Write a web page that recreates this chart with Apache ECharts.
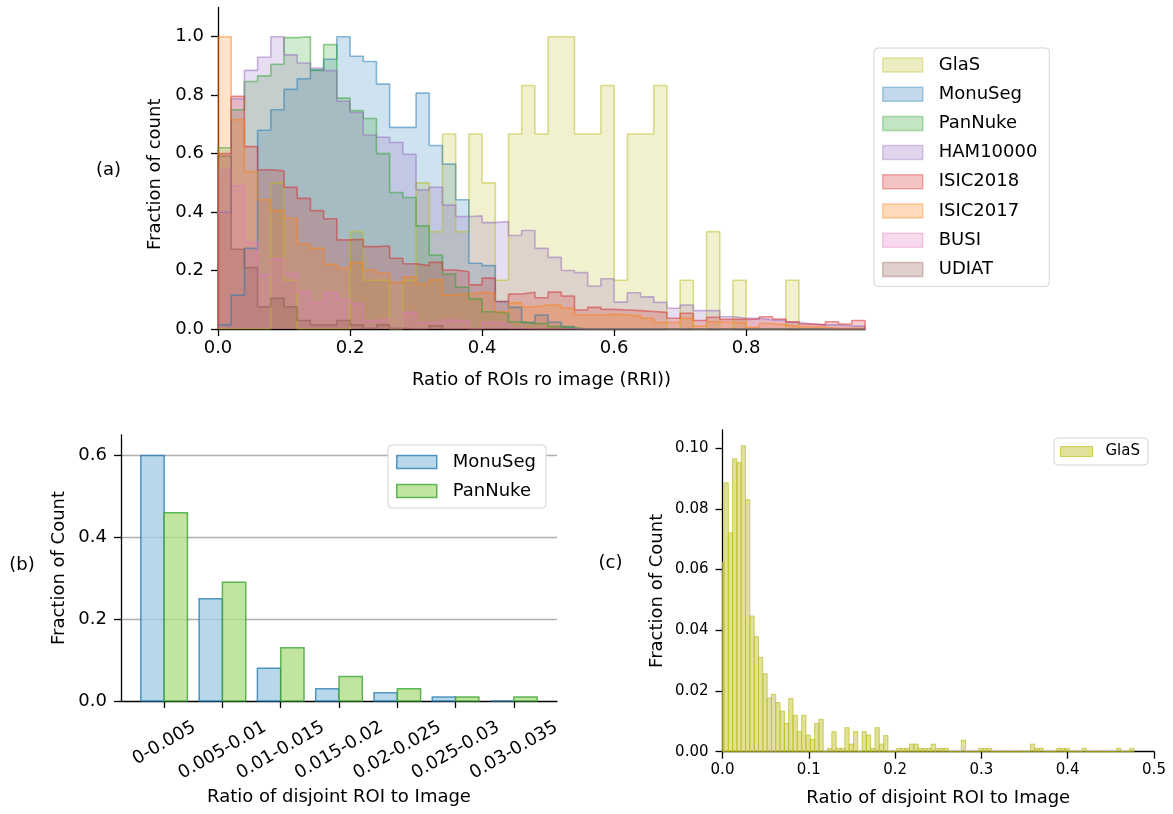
<!DOCTYPE html>
<html>
<head>
<meta charset="utf-8">
<title>ROI ratio histograms</title>
<script src="https://cdn.jsdelivr.net/npm/echarts@6.0.0/dist/echarts.min.js"></script>
<style>
  html, body { margin: 0; padding: 0; background: #fff; }
  #main { width: 1173px; height: 814px; }
</style>
</head>
<body>
<div id="main"></div>
<script>
// (a) fraction of count per RRI bin, bins 0.02 wide starting at 0
const rriBinWidth = 0.02;
const rriNames = ['GlaS', 'MonuSeg', 'PanNuke', 'HAM10000', 'ISIC2018', 'ISIC2017', 'BUSI', 'UDIAT'];
const glasRRI = [
  0, 0, 0, 0, 0.5, 0.167, 0, 0, 0, 0,
  0.333, 0.167, 0.167, 0, 0.167, 0.5, 0.333, 0.667, 0.333, 0.667,
  0.5, 0.167, 0.667, 0.833, 0.667, 1.0, 1.0, 0.667, 0.667, 0.833,
  0.167, 0.667, 0.667, 0.833, 0, 0.167, 0, 0.333, 0, 0.167,
  0, 0, 0, 0.167, 0, 0, 0, 0, 0
];
const monuSegRRI = [
  0.014, 0.116, 0.276, 0.68, 0.75, 0.82, 0.856, 0.887, 0.923, 1.0,
  0.933, 0.915, 0.838, 0.69, 0.69, 0.807, 0.628, 0.564, 0.442, 0.225,
  0.217, 0.094, 0.074, 0.022, 0.048, 0.023, 0.008, 0, 0, 0,
  0, 0, 0, 0, 0, 0, 0, 0, 0, 0,
  0, 0, 0, 0, 0, 0, 0, 0, 0
];
const panNukeRRI = [
  0.62, 0.75, 0.847, 0.866, 0.906, 0.997, 1.0, 0.885, 0.973, 0.79,
  0.747, 0.72, 0.6, 0.467, 0.45, 0.353, 0.253, 0.188, 0.143, 0.103,
  0.059, 0.054, 0.025, 0.019, 0.019, 0.008, 0.005, 0, 0, 0,
  0, 0, 0, 0, 0, 0, 0, 0, 0, 0,
  0, 0, 0, 0, 0, 0, 0, 0, 0
];
const hamRRI = [
  0.4, 0.788, 0.885, 0.93, 1.0, 0.938, 0.91, 0.893, 0.884, 0.779,
  0.741, 0.664, 0.656, 0.638, 0.598, 0.476, 0.485, 0.424, 0.385, 0.387,
  0.364, 0.368, 0.32, 0.337, 0.276, 0.245, 0.2, 0.193, 0.147, 0.172,
  0.092, 0.124, 0.11, 0.091, 0.071, 0.082, 0.063, 0.063, 0.042, 0.037,
  0.037, 0.031, 0.031, 0.023, 0.017, 0.014, 0.014, 0.01, 0.01
];
const isic2018RRI = [
  0.6, 0.796, 0.624, 0.545, 0.541, 0.485, 0.447, 0.405, 0.377, 0.305,
  0.307, 0.282, 0.284, 0.242, 0.223, 0.217, 0.228, 0.202, 0.196, 0.151,
  0.174, 0.094, 0.12, 0.126, 0.107, 0.126, 0.113, 0.065, 0.074, 0.067,
  0.065, 0.063, 0.06, 0.057, 0.037, 0.054, 0.029, 0.04, 0.033, 0.033,
  0.034, 0.042, 0.034, 0.025, 0.017, 0.014, 0.025, 0.017, 0.029
];
const isic2017RRI = [
  1.0, 0.716, 0.539, 0.442, 0.405, 0.379, 0.291, 0.276, 0.221, 0.208,
  0.228, 0.202, 0.191, 0.159, 0.179, 0.154, 0.168, 0.116, 0.12, 0.126,
  0.122, 0.059, 0.09, 0.076, 0.082, 0.082, 0.071, 0.048, 0.048, 0.051,
  0.048, 0.045, 0.037, 0.022, 0.022, 0.037, 0.01, 0.025, 0.022, 0.022,
  0.006, 0.019, 0.014, 0.008, 0.008, 0.006, 0.002, 0.002, 0.002
];
const busiRRI = [
  0.545, 0.49, 0.296, 0.185, 0.239, 0.19, 0.128, 0.09, 0.124, 0.102,
  0.086, 0.029, 0.033, 0.002, 0.057, 0.022, 0.022, 0.031, 0.027, 0,
  0.022, 0.017, 0.002, 0, 0, 0, 0, 0, 0, 0,
  0, 0, 0, 0, 0, 0, 0, 0, 0, 0,
  0, 0, 0, 0, 0, 0, 0, 0, 0
];
const udiatRRI = [
  0.592, 0.273, 0.21, 0.076, 0.105, 0.076, 0.029, 0.014, 0.014, 0.029,
  0.014, 0.002, 0.014, 0.002, 0, 0, 0.011, 0, 0, 0,
  0, 0, 0, 0, 0, 0, 0, 0, 0, 0,
  0, 0, 0, 0, 0, 0, 0, 0, 0, 0,
  0, 0, 0, 0, 0, 0, 0, 0, 0
];
const rriValues = [glasRRI, monuSegRRI, panNukeRRI, hamRRI, isic2018RRI, isic2017RRI, busiRRI, udiatRRI];
const rriTicksX = [0, 0.2, 0.4, 0.6, 0.8];
const rriTicksY = [0, 0.2, 0.4, 0.6, 0.8, 1.0];

// (b) disjoint ROI ratio, grouped bars
const disjointBins = ['0-0.005', '0.005-0.01', '0.01-0.015', '0.015-0.02', '0.02-0.025', '0.025-0.03', '0.03-0.035'];
const monuSegDisjoint = [0.6, 0.25, 0.08, 0.03, 0.02, 0.01, 0];
const panNukeDisjoint = [0.46, 0.29, 0.13, 0.06, 0.03, 0.01, 0.01];
const disjointTicksY = [0, 0.2, 0.4, 0.6];

// (c) GlaS disjoint ROI ratio, bins 0.005 wide (first one cut by the axis)
const glasBinStart = -0.0033;
const glasBinWidth = 0.005;
const glasDisjoint = [
  0.0625,
  0.0886, 0.0721, 0.0965, 0.0952, 0.1008, 0.083, 0.0447, 0.0379, 0.0311, 0.0257,
  0.0177, 0.0189, 0.0162, 0.0134, 0.0093, 0.0175, 0.012, 0.0066, 0.012, 0.0055,
  0.004, 0.0093, 0.0106, 0, 0.0011, 0.0066, 0.0011, 0.0011, 0.0079, 0.0025,
  0.0066, 0, 0.0066, 0.0055, 0.0011, 0.0079, 0.0025, 0.0053, 0, 0,
  0.0011, 0.0011, 0.0011, 0.0025, 0.0025, 0.0011, 0.0011, 0.0011, 0.0025, 0.0011,
  0.0011, 0.0011, 0, 0, 0, 0.0038, 0, 0, 0, 0.0011,
  0.0011, 0.0011, 0, 0, 0, 0, 0, 0, 0, 0,
  0, 0.0025, 0.0011, 0.0011, 0, 0, 0, 0.0011, 0.0011, 0.0011,
  0, 0, 0, 0.0011, 0, 0, 0, 0, 0, 0,
  0, 0.0011, 0, 0, 0.0011
];
const glasTicksX = [0, 0.1, 0.2, 0.3, 0.4, 0.5];
const glasTicksY = [0, 0.02, 0.04, 0.06, 0.08, 0.1];

const font = 'DejaVu Sans';
const tab10 = ['188,189,34', '31,119,180', '44,160,44', '148,103,189', '214,39,40', '255,127,14', '227,119,194', '140,86,75'];
const rgba = (c, a) => 'rgba(' + c + ',' + a + ')';

// outline of a filled step histogram
function stepPoints (values) {
  const n = values.length;
  const pts = [[0, 0]];
  values.forEach((v, i) => pts.push([i * rriBinWidth, v]));
  pts.push([n * rriBinWidth, values[n - 1]]);
  pts.push([n * rriBinWidth, 0]);
  return pts;
}

function barRect (fill, stroke, lineWidth) {
  return function (params, api) {
    const top = api.coord([api.value(0), api.value(2)]);
    const bot = api.coord([api.value(1), 0]);
    const cs = params.coordSys;
    const shape = echarts.graphic.clipRectByRect(
      { x: top[0], y: top[1], width: bot[0] - top[0], height: bot[1] - top[1] },
      { x: cs.x, y: cs.y, width: cs.width, height: cs.height });
    if (!shape) return;
    return { type: 'rect', shape: shape, style: { fill: fill, stroke: stroke, lineWidth: lineWidth } };
  };
}

function valueAxis (grid, min, max, ticks, digits, size, margin, extra) {
  return Object.assign({
    type: 'value', gridIndex: grid, min: min, max: max,
    axisLine: { show: true, onZero: false, lineStyle: { color: '#000', width: 1.3 } },
    axisTick: { show: true, length: 7, customValues: ticks, lineStyle: { color: '#000', width: 1.3 } },
    axisLabel: {
      customValues: ticks, margin: margin, color: '#000', fontFamily: font, fontSize: size,
      formatter: v => v.toFixed(digits)
    },
    splitLine: { show: false },
    nameLocation: 'middle',
    nameTextStyle: { color: '#000', fontFamily: font, fontSize: 18 }
  }, extra);
}

// rotated (b) tick labels: centred under the tick, dropping lower the wider they are
const measure = document.createElement('canvas').getContext('2d');
measure.font = '18px "DejaVu Sans"';
function tiltedLabel (params, api) {
  const i = api.value(0);
  const text = disjointBins[i];
  const w = measure.measureText(text).width;
  const p = api.coord([i, 0]);
  return {
    type: 'text',
    x: p[0],
    y: p[1] + 25 + 0.25 * w,
    rotation: Math.PI / 6,
    style: { text: text, fill: '#000', fontFamily: font, fontSize: 18, align: 'center', verticalAlign: 'middle' }
  };
}

const chart = echarts.init(document.getElementById('main'));

const rriSeries = rriNames.map((name, i) => ({
  name: name,
  type: 'line',
  xAxisIndex: 0,
  yAxisIndex: 0,
  step: 'end',
  symbol: 'none',
  clip: true,
  data: stepPoints(rriValues[i]),
  lineStyle: { color: rgba(tab10[i], 0.5), width: 1.6 },
  itemStyle: { color: rgba(tab10[i], 0.31) },
  areaStyle: { color: rgba(tab10[i], 0.31) },
  emphasis: { disabled: true }
}));

const option = {
  animation: false,
  backgroundColor: '#fff',
  grid: [
    { left: 218, top: 7.5, width: 647, height: 321.5 },
    { left: 121, top: 435, width: 436, height: 266 },
    { left: 722.5, top: 430, width: 431.5, height: 321.7 }
  ],
  xAxis: [
    valueAxis(0, 0, 0.98, rriTicksX, 1, 18, 10, { name: 'Ratio of ROIs ro image (RRI))', nameGap: 42 }),
    valueAxis(1, -0.74, 6.74, disjointBins.map((c, i) => i), 0, 18, 10, {
      name: 'Ratio of disjoint ROI to Image', nameGap: 87, nameMoveOverlap: false
    }),
    valueAxis(2, 0, 0.5, glasTicksX, 1, 15, 11, { name: 'Ratio of disjoint ROI to Image', nameGap: 38 })
  ],
  yAxis: [
    valueAxis(0, 0, 1.1, rriTicksY, 1, 18, 14, {
      name: 'Fraction of count', nameGap: 53,
      nameTextStyle: { color: '#000', fontFamily: font, fontSize: 18, padding: [0, 12, 0, 0] }
    }),
    valueAxis(1, 0, 0.65, disjointTicksY, 1, 18, 14, {
      name: 'Fraction of Count', nameGap: 53, interval: 0.2,
      splitLine: { show: true, showMinLine: false, showMaxLine: true, lineStyle: { color: '#b0b0b0', width: 1.3 } }
    }),
    valueAxis(2, 0, 0.106, glasTicksY, 2, 15, 14, { name: 'Fraction of Count', nameGap: 56 })
  ],
  legend: [
    {
      data: rriNames.map((name, i) => ({
        name: name,
        itemStyle: { color: rgba(tab10[i], 0.28), borderColor: rgba(tab10[i], 0.35), borderWidth: 1.5 }
      })),
      orient: 'vertical', left: 874, top: 48, padding: [8, 12, 8, 8],
      icon: 'rect', itemWidth: 40, itemHeight: 14, itemGap: 11.2,
      selectedMode: false,
      backgroundColor: '#fff', borderColor: '#d4d4d4', borderWidth: 1, borderRadius: 4,
      textStyle: { color: '#000', fontFamily: font, fontSize: 18, padding: [0, 0, 0, 11] }
    },
    {
      data: [
        { name: 'MonuSeg', itemStyle: { color: 'rgba(166,206,227,0.8)', borderColor: 'rgba(31,120,180,0.75)', borderWidth: 1.5 } },
        { name: 'PanNuke', itemStyle: { color: 'rgba(178,223,138,0.8)', borderColor: 'rgba(51,160,44,0.75)', borderWidth: 1.5 } }
      ],
      orient: 'vertical', left: 388, top: 445, padding: [8, 10, 8, 8],
      icon: 'rect', itemWidth: 40, itemHeight: 13, itemGap: 11,
      selectedMode: false,
      backgroundColor: '#fff', borderColor: '#d4d4d4', borderWidth: 1, borderRadius: 4,
      textStyle: { color: '#000', fontFamily: font, fontSize: 18, padding: [0, 0, 0, 11] }
    },
    {
      data: [
        { name: 'GlaS', itemStyle: { color: 'rgba(188,189,34,0.45)', borderColor: 'rgba(188,189,34,0.7)', borderWidth: 1 } }
      ],
      orient: 'vertical', left: 1054, top: 438, padding: [6, 8, 6, 6],
      icon: 'rect', itemWidth: 32, itemHeight: 10,
      selectedMode: false,
      backgroundColor: '#fff', borderColor: '#d4d4d4', borderWidth: 1, borderRadius: 4,
      textStyle: { color: '#000', fontFamily: font, fontSize: 15, padding: [0, 0, 0, 8] }
    }
  ],
  graphic: [
    { type: 'text', x: 108.5, y: 170, style: { text: '(a)', fill: '#000', fontFamily: font, fontSize: 18, align: 'center', verticalAlign: 'middle' } },
    { type: 'text', x: 22, y: 565, style: { text: '(b)', fill: '#000', fontFamily: font, fontSize: 18, align: 'center', verticalAlign: 'middle' } },
    { type: 'text', x: 610.5, y: 563, style: { text: '(c)', fill: '#000', fontFamily: font, fontSize: 18, align: 'center', verticalAlign: 'middle' } }
  ],
  series: rriSeries.concat([
    {
      name: 'MonuSeg', type: 'custom', xAxisIndex: 1, yAxisIndex: 1,
      renderItem: barRect('rgba(166,206,227,0.8)', 'rgba(31,120,180,0.75)', 1.5),
      encode: { x: [0, 1], y: 2 },
      data: monuSegDisjoint.map((v, i) => [i - 0.4, i, v])
    },
    {
      name: 'PanNuke', type: 'custom', xAxisIndex: 1, yAxisIndex: 1,
      renderItem: barRect('rgba(178,223,138,0.8)', 'rgba(51,160,44,0.75)', 1.5),
      encode: { x: [0, 1], y: 2 },
      data: panNukeDisjoint.map((v, i) => [i, i + 0.4, v])
    },
    {
      name: 'binLabels', type: 'custom', xAxisIndex: 1, yAxisIndex: 1,
      renderItem: tiltedLabel,
      encode: { x: 0, y: 1 },
      silent: true,
      data: disjointBins.map((t, i) => [i, 0])
    },
    {
      name: 'GlaS', type: 'custom', xAxisIndex: 2, yAxisIndex: 2,
      renderItem: barRect('rgba(188,189,34,0.45)', 'rgba(188,189,34,0.7)', 1),
      encode: { x: [0, 1], y: 2 },
      data: glasDisjoint.map((v, k) => [glasBinStart + k * glasBinWidth, glasBinStart + (k + 1) * glasBinWidth, v])
    }
  ])
};

// tick labels of (b) come from the binLabels series
option.xAxis[1].axisLabel.show = false;

chart.setOption(option);
</script>
</body>
</html>
